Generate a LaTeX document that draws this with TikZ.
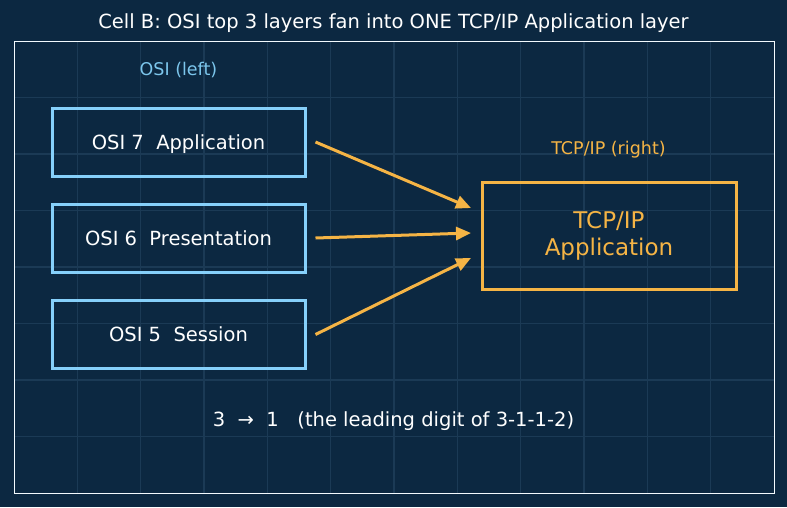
\documentclass[tikz,border=0pt]{standalone}
\usepackage{fontspec}
\setmainfont{DejaVu Sans}
\usetikzlibrary{arrows.meta}
\definecolor{bgnavy}{HTML}{0C2841}
\definecolor{gridline}{HTML}{1B3A55}
\definecolor{osiblue}{HTML}{86D0FA}
\definecolor{osilabel}{HTML}{7CC6EC}
\definecolor{tcporange}{HTML}{F5B445}

\begin{document}
\begin{tikzpicture}[x=1pt,y=-1pt,
  osibox/.style={draw=osiblue, line width=3pt, minimum width=253pt,
    minimum height=68pt, inner sep=0pt, text=white, text depth=0pt,
    font=\fontsize{19.5}{23}\selectfont},
  tcpbox/.style={draw=tcporange, line width=3pt, minimum width=254pt,
    minimum height=107pt, inner sep=0pt, text=tcporange, align=center,
    font=\fontsize{23}{27}\selectfont},
  fanarrow/.style={draw=tcporange, line width=3pt,
    -{Triangle[length=15pt,width=13pt]}},
  caption/.style={font=\fontsize{17.5}{21}\selectfont}]
\useasboundingbox (0,0) rectangle (787,507);
\fill[bgnavy] (0,0) rectangle (787,507);
\foreach \i in {1,...,11}
  \draw[gridline, line width=1.2pt] ({14+\i*760/12},41) -- ({14+\i*760/12},493);
\foreach \j in {1,...,7}
  \draw[gridline, line width=1.2pt] (14,{41+\j*452/8}) -- (774,{41+\j*452/8});
\draw[white!90!osiblue, line width=1pt] (14,41) rectangle (774,493);
\node[text=white, font=\fontsize{19.5}{23}\selectfont] (title) at (393.5,23)
  {Cell B: OSI top 3 layers fan into ONE TCP/IP Application layer};
\node[caption, text=osilabel] (osihead) at (178.5,70) {OSI (left)};
\node[caption, text=tcporange] (tcphead) at (608.5,149.5) {TCP/IP (right)};
\node[osibox] (osi7) at (178.5,142) {OSI 7~~Application};
\node[osibox] (osi6) at (178.5,238) {OSI 6~~Presentation};
\node[osibox] (osi5) at (178.5,334.5) {OSI 5~~Session};
\node[tcpbox] (tcp) at (609,235.5) {TCP/IP\\Application};
\coordinate (in7) at (471,208);
\coordinate (in6) at (471,233);
\coordinate (in5) at (471,258);
\draw[fanarrow] ([xshift=9pt]osi7.east) -- (in7);
\draw[fanarrow] ([xshift=9pt]osi6.east) -- (in6);
\draw[fanarrow] ([xshift=9pt]osi5.east) -- (in5);
\node[text=white, font=\fontsize{19.5}{23}\selectfont] (note) at (393.5,421.5)
  {3~~→~~1~~~(the leading digit of 3-1-1-2)};
\end{tikzpicture}
\end{document}
